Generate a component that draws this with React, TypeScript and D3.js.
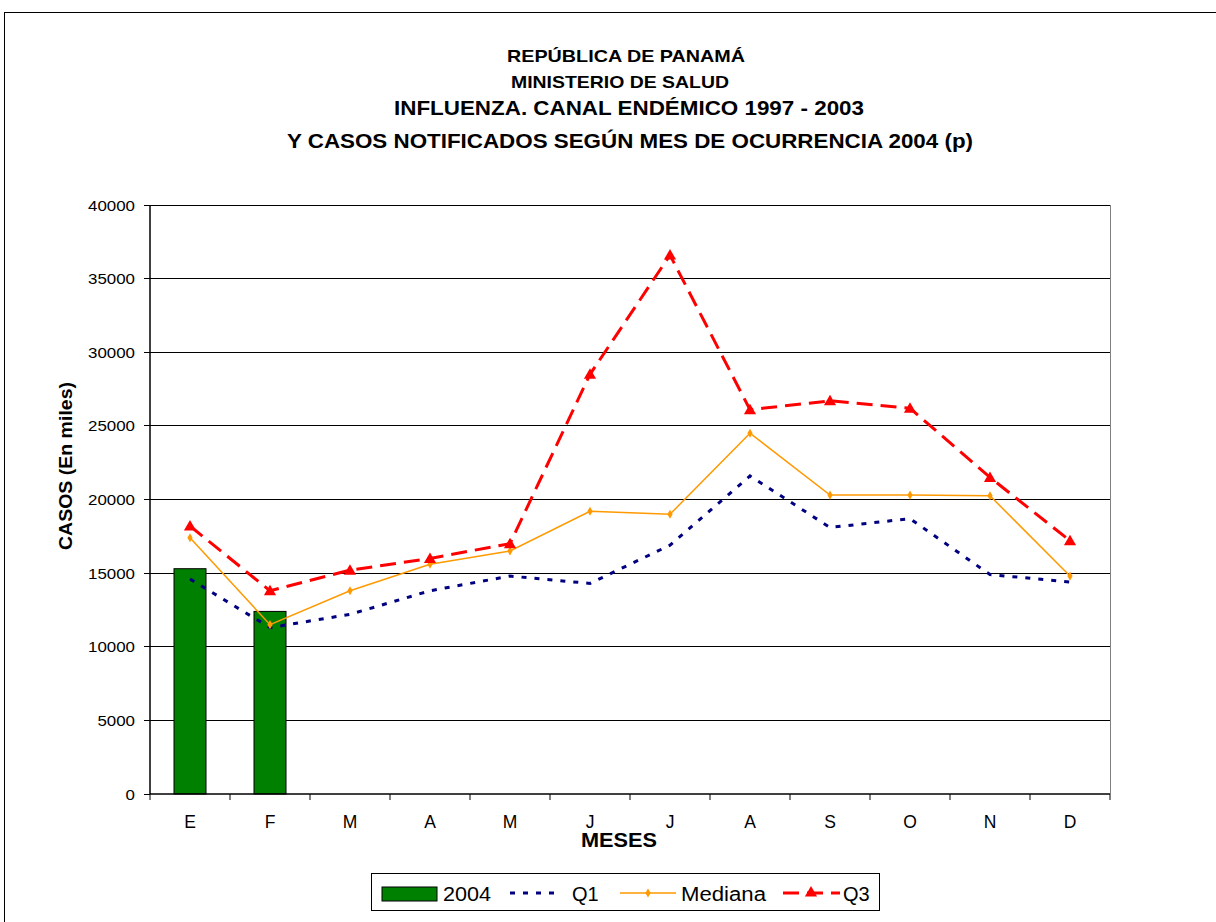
import React from "react";
import * as d3 from "d3";

const months = ["E", "F", "M", "A", "M", "J", "J", "A", "S", "O", "N", "D"];
const casos2004 = [15300, 12400];
const q1 = [14600, 11300, 12200, 13800, 14800, 14300, 16900, 21600, 18100, 18700, 14900, 14400];
const mediana = [17400, 11500, 13800, 15600, 16500, 19200, 19000, 24500, 20300, 20300, 20250, 14800];
const q3 = [18200, 13800, 15200, 16000, 17000, 28500, 36600, 26100, 26700, 26200, 21500, 17200];
const yTicks = [0, 5000, 10000, 15000, 20000, 25000, 30000, 35000, 40000];

const W = 1216;
const H = 922;
const margin = { left: 150, right: 106, top: 205, bottom: 128 };
const font = "'Liberation Sans', Arial, sans-serif";

const App: React.FC = () => {
  const innerW = W - margin.left - margin.right;
  const innerH = H - margin.top - margin.bottom;

  const x = d3
    .scaleBand<number>()
    .domain(d3.range(months.length))
    .range([margin.left, margin.left + innerW]);
  const y = d3.scaleLinear().domain([0, 40000]).range([margin.top + innerH, margin.top]);

  const cx = (i: number) => x(i)! + x.bandwidth() / 2;
  const line = d3
    .line<number>()
    .x((_, i) => cx(i))
    .y((d) => y(d));

  const barW = x.bandwidth() * 0.4;
  const diamond = d3.symbol().type(d3.symbolDiamond).size(24)();
  const triangle = d3.symbol().type(d3.symbolTriangle).size(64)();

  return (
    <div style={{ position: "absolute", left: 0, top: 0 }}>
      <svg width={W} height={H} style={{ display: "block", background: "#fff" }}>
        <rect x={4.5} y={12.5} width={1220} height={930} fill="#fff" stroke="#000" />

        <g fontFamily={font} fontWeight="bold" textAnchor="middle" fill="#000">
          <text x={626} y={62} fontSize={17} textLength={238} lengthAdjust="spacingAndGlyphs">
            REPÚBLICA DE PANAMÁ
          </text>
          <text x={620} y={88} fontSize={17} textLength={218} lengthAdjust="spacingAndGlyphs">
            MINISTERIO DE SALUD
          </text>
          <text x={629} y={115} fontSize={20} textLength={470} lengthAdjust="spacingAndGlyphs">
            INFLUENZA. CANAL ENDÉMICO 1997 - 2003
          </text>
          <text x={630} y={148} fontSize={20} textLength={686} lengthAdjust="spacingAndGlyphs">
            Y CASOS NOTIFICADOS SEGÚN MES DE OCURRENCIA 2004 (p)
          </text>
        </g>

        {/* grid + y ticks */}
        {yTicks.map((t) => (
          <g key={t}>
            {t > 0 && (
              <line
                x1={margin.left}
                x2={margin.left + innerW}
                y1={y(t)}
                y2={y(t)}
                stroke="#000"
                shapeRendering="crispEdges"
              />
            )}
            <line x1={margin.left - 6} x2={margin.left} y1={y(t)} y2={y(t)} stroke="#000" shapeRendering="crispEdges" />
            <text
              x={135}
              y={y(t) + 5.5}
              textAnchor="end"
              fontFamily={font}
              fontSize={15.5}
              textLength={String(t).length * 9.4}
              lengthAdjust="spacingAndGlyphs"
            >
              {t}
            </text>
          </g>
        ))}
        <line
          x1={margin.left + innerW}
          x2={margin.left + innerW}
          y1={margin.top}
          y2={margin.top + innerH}
          stroke="#808080"
          shapeRendering="crispEdges"
        />

        {/* bars */}
        {casos2004.map((v, i) => (
          <rect
            key={i}
            x={cx(i) - barW / 2}
            y={y(v)}
            width={barW}
            height={y(0) - y(v)}
            fill="#008000"
            stroke="#000"
          />
        ))}

        {/* Q1 */}
        <path d={line(q1)!} fill="none" stroke="#000080" strokeWidth={3} strokeDasharray="5,8" />

        {/* Mediana */}
        <path d={line(mediana)!} fill="none" stroke="#FF9900" strokeWidth={1.5} />
        {mediana.map((v, i) => (
          <path key={i} d={diamond!} transform={`translate(${cx(i)},${y(v)})`} fill="#FF9900" />
        ))}

        {/* Q3 */}
        <path d={line(q3)!} fill="none" stroke="#FF0000" strokeWidth={3} strokeDasharray="16,8" />
        {q3.map((v, i) => (
          <path key={i} d={triangle!} transform={`translate(${cx(i)},${y(v) + 1})`} fill="#FF0000" />
        ))}

        {/* axes */}
        <line x1={margin.left} x2={margin.left} y1={margin.top} y2={y(0)} stroke="#000" strokeWidth={1.5} />
        <line x1={margin.left} x2={margin.left + innerW} y1={y(0)} y2={y(0)} stroke="#000" strokeWidth={1.5} />
        {d3.range(months.length + 1).map((i) => {
          const xx = margin.left + i * x.step();
          return <line key={i} x1={xx} x2={xx} y1={y(0)} y2={y(0) + 6} stroke="#000" />;
        })}
        {months.map((m, i) => (
          <text key={i} x={cx(i)} y={828} textAnchor="middle" fontFamily={font} fontSize={17.5}>
            {m}
          </text>
        ))}
        <text
          x={619}
          y={847}
          textAnchor="middle"
          fontFamily={font}
          fontSize={20}
          fontWeight="bold"
          textLength={76}
          lengthAdjust="spacingAndGlyphs"
        >
          MESES
        </text>
        <text
          transform={`translate(72,466) rotate(-90)`}
          textAnchor="middle"
          fontFamily={font}
          fontSize={17.5}
          fontWeight="bold"
          textLength={168}
          lengthAdjust="spacingAndGlyphs"
        >
          CASOS (En miles)
        </text>

        {/* legend */}
        <g fontFamily={font} fontSize={20}>
          <rect x={371.5} y={873.5} width={508} height={37} fill="#fff" stroke="#000" />
          <rect x={382} y={887} width={55} height={14} fill="#008000" stroke="#000" />
          <text x={443} y={901} textLength={48} lengthAdjust="spacingAndGlyphs">2004</text>
          <line x1={510} x2={562} y1={893} y2={893} stroke="#000080" strokeWidth={3} strokeDasharray="5,8" />
          <text x={572} y={901}>Q1</text>
          <line x1={620} x2={676} y1={893} y2={893} stroke="#FF9900" strokeWidth={1.5} />
          <path d={diamond!} transform="translate(648,893)" fill="#FF9900" />
          <text x={681} y={901} textLength={85} lengthAdjust="spacingAndGlyphs">Mediana</text>
          <line x1={783} x2={840} y1={893} y2={893} stroke="#FF0000" strokeWidth={3} strokeDasharray="16,8" />
          <path d={triangle!} transform="translate(811,893)" fill="#FF0000" />
          <text x={843} y={901}>Q3</text>
        </g>
      </svg>
    </div>
  );
};

export default App;
